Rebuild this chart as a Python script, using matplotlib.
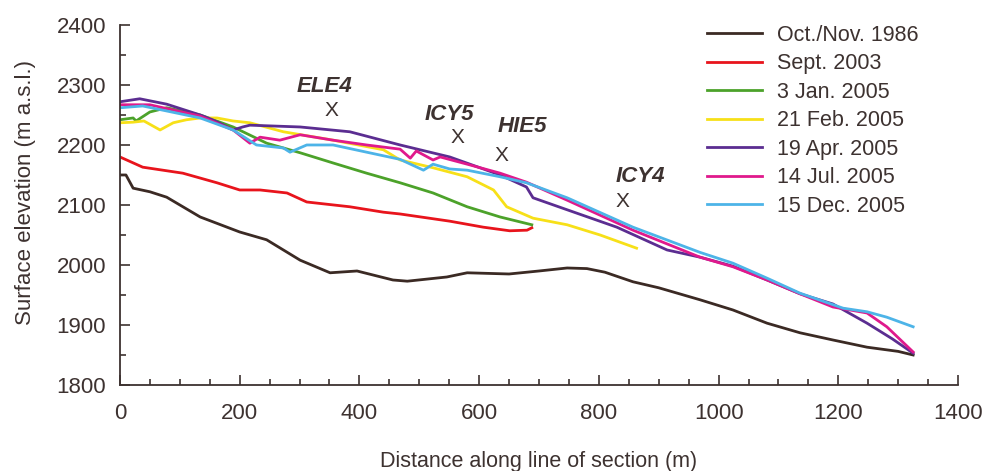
import matplotlib
matplotlib.use("Agg")
import matplotlib.pyplot as plt
from matplotlib.ticker import MultipleLocator

plt.rcParams['font.family'] = ['Liberation Sans', 'DejaVu Sans']

TXT = '#3d3230'

labels = ["Oct./Nov. 1986", "Sept. 2003", "3 Jan. 2005", "21 Feb. 2005",
          "19 Apr. 2005", "14 Jul. 2005", "15 Dec. 2005"]
colors = ['#3b2a24', '#e8141c', '#4ca22a', '#f7e018', '#5b2d91', '#e0198c', '#4db4e8']

x1986 = [0, 10, 22, 50, 78, 134, 200, 245, 301, 351, 396, 456, 480, 546, 580, 650, 700, 747, 780, 810, 857, 900, 969, 1024, 1081, 1136, 1191, 1248, 1300, 1325]
y1986 = [2150, 2150, 2128, 2122, 2113, 2080, 2055, 2042, 2008, 1987, 1990, 1975, 1973, 1980, 1987, 1985, 1990, 1995, 1994, 1988, 1972, 1962, 1942, 1925, 1903, 1887, 1875, 1863, 1856, 1850]

x2003 = [0, 38, 105, 162, 200, 234, 279, 312, 384, 440, 468, 551, 607, 651, 680, 688]
y2003 = [2180, 2163, 2153, 2137, 2125, 2125, 2120, 2105, 2097, 2088, 2085, 2073, 2063, 2057, 2058, 2062]

xJan = [0, 22, 27, 50, 78, 134, 189, 245, 301, 356, 412, 468, 523, 580, 635, 688]
yJan = [2242, 2245, 2240, 2255, 2262, 2250, 2230, 2203, 2187, 2170, 2153, 2137, 2120, 2097, 2080, 2067]

xFeb = [0, 22, 40, 67, 89, 111, 134, 162, 189, 217, 273, 356, 440, 468, 523, 580, 624, 646, 690, 747, 802, 863]
yFeb = [2237, 2238, 2240, 2225, 2237, 2242, 2245, 2245, 2240, 2237, 2222, 2208, 2192, 2175, 2162, 2147, 2125, 2097, 2078, 2067, 2050, 2028]

xApr = [0, 33, 78, 134, 155, 189, 205, 217, 301, 384, 468, 551, 635, 679, 690, 747, 830, 914, 969, 1024, 1081, 1136, 1191, 1248, 1290, 1325]
yApr = [2272, 2277, 2268, 2250, 2242, 2225, 2230, 2233, 2230, 2222, 2200, 2180, 2150, 2130, 2112, 2092, 2063, 2025, 2013, 1998, 1975, 1952, 1935, 1903, 1877, 1853]

xJul = [0, 50, 134, 189, 217, 234, 267, 301, 356, 412, 468, 485, 495, 523, 535, 580, 635, 679, 747, 857, 969, 1024, 1081, 1136, 1191, 1248, 1281, 1325]
yJul = [2267, 2267, 2248, 2225, 2203, 2213, 2208, 2217, 2208, 2200, 2193, 2178, 2190, 2175, 2180, 2168, 2153, 2138, 2108, 2058, 2013, 1997, 1975, 1952, 1930, 1920, 1897, 1855]

xDec = [0, 38, 134, 189, 228, 273, 284, 312, 356, 412, 468, 507, 523, 551, 580, 635, 679, 747, 857, 969, 1024, 1081, 1136, 1208, 1248, 1281, 1325]
yDec = [2262, 2265, 2245, 2225, 2200, 2195, 2188, 2200, 2200, 2188, 2176, 2158, 2168, 2160, 2158, 2147, 2137, 2112, 2063, 2021, 2003, 1978, 1953, 1928, 1922, 1913, 1897]

series_x = [x1986, x2003, xJan, xFeb, xApr, xJul, xDec]
series_y = [y1986, y2003, yJan, yFeb, yApr, yJul, yDec]

sites = ["ELE4", "ICY5", "HIE5", "ICY4"]
site_x = [354, 563, 638, 839]
site_y = [2258, 2212, 2183, 2105]
site_lx = [341, 551, 672, 869]
site_ly = [2297, 2250, 2230, 2148]

fig = plt.figure(figsize=(9.89, 4.71), dpi=100)
ax = fig.add_axes([0.1213, 0.1826, 0.8474, 0.7644])

for xs, ys, c, lab in zip(series_x, series_y, colors, labels):
    ax.plot(xs, ys, color=c, lw=2.0, label=lab)

for s, sx, sy, lx, ly in zip(sites, site_x, site_y, site_lx, site_ly):
    ax.text(sx, sy, "X", ha='center', va='center', fontsize=15, color=TXT)
    ax.text(lx, ly, s, ha='center', va='center', fontsize=16, color=TXT,
            style='italic', fontweight='bold')

ax.set_xlim(0, 1400)
ax.set_ylim(1800, 2400)
ax.xaxis.set_major_locator(MultipleLocator(200))
ax.xaxis.set_minor_locator(MultipleLocator(50))
ax.yaxis.set_major_locator(MultipleLocator(100))
ax.yaxis.set_minor_locator(MultipleLocator(50))
ax.tick_params(which='both', direction='in', colors=TXT, labelcolor=TXT, labelsize=16, width=1.2)
ax.tick_params(which='major', length=7)
ax.tick_params(which='minor', length=4)
ax.tick_params(axis='x', which='major', pad=13)
ax.tick_params(axis='y', which='major', pad=10)
for sp in ['top', 'right']:
    ax.spines[sp].set_visible(False)
for sp in ['left', 'bottom']:
    ax.spines[sp].set_color(TXT)
    ax.spines[sp].set_linewidth(1.3)

ax.set_xlabel("Distance along line of section (m)", fontsize=15.5, color=TXT)
ax.xaxis.set_label_coords(0.5, -0.183)
ax.set_ylabel("Surface elevation (m a.s.l.)", fontsize=16, color=TXT)
ax.yaxis.set_label_coords(-0.100, 0.536)

leg = ax.legend(loc='upper left', bbox_to_anchor=(0.690, 1.025), borderaxespad=0,
                frameon=False, fontsize=15.5,
                handlelength=2.56, handletextpad=0.7, labelspacing=0.35, labelcolor=TXT)

fig.savefig("out.png", dpi=100)
